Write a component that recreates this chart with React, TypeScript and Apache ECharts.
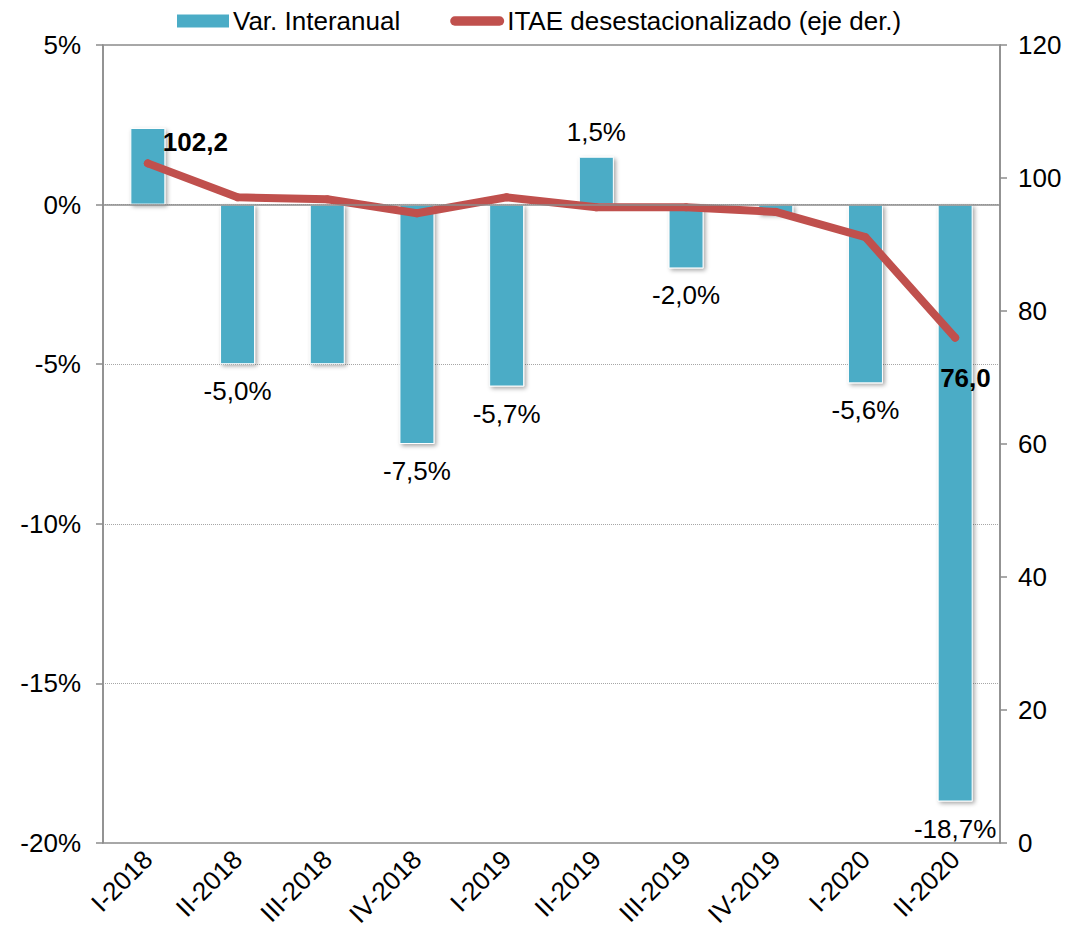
import React, { useEffect, useRef } from "react";
import * as echarts from "echarts";

const categories = ["I-2018", "II-2018", "III-2018", "IV-2018", "I-2019", "II-2019", "III-2019", "IV-2019", "I-2020", "II-2020"];
const varInteranual = [2.4, -5.0, -5.0, -7.5, -5.7, 1.5, -2.0, -0.3, -5.6, -18.7];
const showBarLabel = [false, true, false, true, true, true, true, false, true, true];
const itae = [102.2, 97.1, 96.8, 94.7, 97.1, 95.6, 95.6, 94.9, 91.1, 76.0];
const leftTicks = { min: -20, max: 5, interval: 5 };
const rightTicks = { min: 0, max: 120, interval: 20 };

const FONT = "'Liberation Sans', Arial, sans-serif";
const FS = 26;
const fmt = (v: number) => v.toFixed(1).replace(".", ",");

export default function App() {
  const ref = useRef<HTMLDivElement>(null);
  useEffect(() => {
    if (!ref.current) return;
    const chart = echarts.init(ref.current, null, { renderer: "svg" });
    const barData = varInteranual.map((v, i) => ({
      value: v,
      label: {
        show: showBarLabel[i],
        position: v >= 0 ? "top" : "bottom",
        distance: v >= 0 ? 12 : 14,
      },
    }));
    const lineData = itae.map((v, i) => {
      if (i === 0)
        return { value: v, label: { show: true, position: [19, -30], align: "left", verticalAlign: "top" } };
      if (i === itae.length - 1)
        return { value: v, label: { show: true, position: [-11, 31], align: "left", verticalAlign: "top" } };
      return { value: v };
    });
    chart.setOption({
      animation: false,
      textStyle: { fontFamily: FONT },
      grid: { left: 103, right: 83, top: 45, bottom: 97, show: true, borderColor: "#8c8c8c", borderWidth: 1.5, backgroundColor: "transparent" },
      legend: {
        top: 3,
        left: 170,
        itemWidth: 54,
        itemHeight: 15,
        itemGap: 50,
        textStyle: { fontFamily: FONT, fontSize: FS, color: "#000", padding: [0, 0, 0, -2] },
        data: [
          { name: "Var. Interanual", icon: "rect" },
          { name: "ITAE desestacionalizado (eje der.)", icon: "path://M5,0 L53,0 A5,5 0 0 1 53,10 L5,10 A5,5 0 0 1 5,0 Z" },
        ],
      },
      xAxis: {
        type: "category",
        data: categories,
        axisLine: { show: false },
        axisTick: { show: false },
        axisLabel: { rotate: 45, margin: 12, fontSize: FS, color: "#000", fontFamily: FONT, interval: 0 },
      },
      yAxis: [
        {
          type: "value",
          min: leftTicks.min,
          max: leftTicks.max,
          interval: leftTicks.interval,
          axisLine: { show: true, lineStyle: { color: "#8c8c8c", width: 1.5 } },
          axisTick: { show: true, length: 7, lineStyle: { color: "#8c8c8c", width: 1.5 } },
          axisLabel: { fontSize: FS, color: "#000", fontFamily: FONT, margin: 22, formatter: (v: number) => v + "%" },
          splitLine: { show: true, lineStyle: { color: "#a6a6a6", type: "dotted", width: 1 } },
        },
        {
          type: "value",
          min: rightTicks.min,
          max: rightTicks.max,
          interval: rightTicks.interval,
          position: "right",
          axisLine: { show: true, lineStyle: { color: "#8c8c8c", width: 1.5 } },
          axisTick: { show: true, length: 7, lineStyle: { color: "#8c8c8c", width: 1.5 } },
          axisLabel: { fontSize: FS, color: "#000", fontFamily: FONT, margin: 18 },
          splitLine: { show: false },
        },
      ],
      series: [
        {
          name: "Var. Interanual",
          type: "bar",
          yAxisIndex: 0,
          barWidth: 35,
          data: barData,
          itemStyle: {
            color: "#4BACC6",
            borderColor: "#ffffff",
            borderWidth: 1,
            shadowBlur: 4,
            shadowColor: "rgba(0,0,0,0.35)",
            shadowOffsetX: 2,
            shadowOffsetY: 2,
          },
          label: {
            fontSize: FS,
            color: "#000",
            fontFamily: FONT,
            formatter: (p: any) => fmt(p.value) + "%",
          },
          markLine: {
            silent: true,
            symbol: "none",
            label: { show: false },
            lineStyle: { color: "#8c8c8c", type: "solid", width: 1.5 },
            data: [{ yAxis: 0 }],
          },
        },
        {
          name: "ITAE desestacionalizado (eje der.)",
          type: "line",
          yAxisIndex: 1,
          data: lineData,
          symbol: "circle",
          symbolSize: 8,
          itemStyle: { color: "#C0504D" },
          lineStyle: { color: "#C0504D", width: 8, cap: "round", join: "round" },
          label: {
            show: false,
            fontSize: FS,
            fontWeight: "bold",
            color: "#000",
            fontFamily: FONT,
            formatter: (p: any) => fmt(p.value),
          },
          z: 3,
        },
      ],
    });
    return () => chart.dispose();
  }, []);
  return <div ref={ref} style={{ position: "absolute", left: 0, top: 0, width: 1083, height: 940 }} />;
}
